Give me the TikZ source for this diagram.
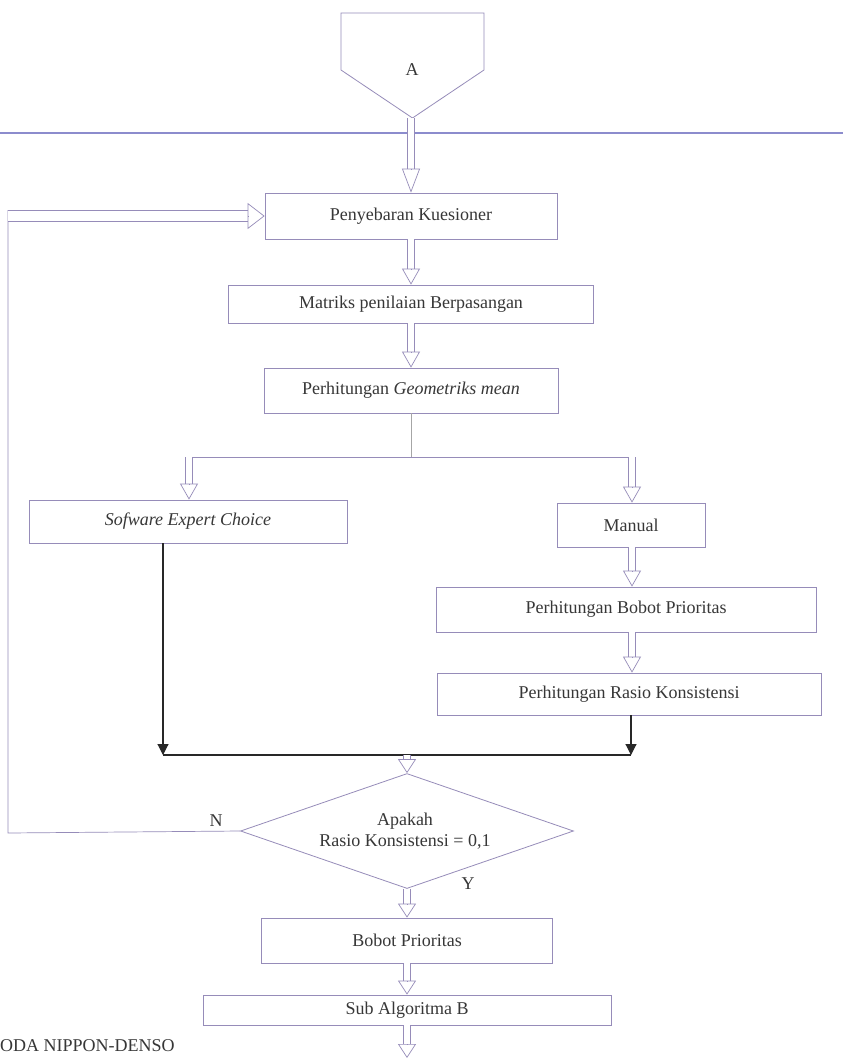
\documentclass[tikz,border=0pt]{standalone}
\usepackage{fontspec}
\setmainfont{Liberation Serif}
\usetikzlibrary{arrows.meta,calc,shapes.geometric}
\definecolor{linec}{RGB}{150,140,185}
\definecolor{topline}{RGB}{140,140,205}
\definecolor{txt}{RGB}{55,55,55}
\definecolor{blk}{RGB}{40,40,40}
\tikzset{
  fnt/.style={font=\fontsize{18}{21.6}\selectfont},
  box/.style={draw=linec, line width=0.8pt, fill=white, inner sep=0pt, text=txt, fnt},
  lbl/.style={text=txt, inner sep=0pt, fnt},
  shaft/.style={draw=linec, line width=0.7pt, double=white, double distance=6pt, line cap=butt},
  blkarrow/.style={draw=blk, line width=1.1pt, -{Triangle[length=11pt,width=11pt]}},
  thinline/.style={draw=linec, line width=0.7pt},
}
\newcommand\hollowto[3][16pt]{%
  \draw[shaft] (#2) -- ($(#3)!#1!(#2)$);
  \draw[draw=linec, line width=0.7pt, -{Triangle[open,length=#1,width=18pt]}] ($(#3)!#1!(#2)$) -- (#3);
}
\begin{document}
\begin{tikzpicture}[x=1pt,y=-1pt]
\useasboundingbox (0,0) rectangle (843,1058);
\fill[white] (0,0) rectangle (843,1058);

% off-page connector A
\draw[draw=linec, line width=0.8pt] (341,13) -- (484,13) -- (484,70) -- (412.5,118) -- (341,70) -- cycle;
\coordinate (Atip) at (411,118);
\node[lbl] (A) at (412,70) {A};

% top separator
\draw[draw=topline, line width=1.2pt] (0,133) -- (843,133);

% boxes
\node[box, minimum width=292pt, minimum height=46pt] (P) at (411,216) {Penyebaran Kuesioner};
\node[box, minimum width=365pt, minimum height=38pt] (M) at (411,304) {Matriks penilaian Berpasangan};
\node[box, minimum width=294pt, minimum height=45pt] (G) at (411,390.5) {Perhitungan \textit{Geometriks mean}};
\node[box, minimum width=318pt, minimum height=43pt] (SEC) at (188,521.5) {\textit{Sofware Expert Choice}};
\node[box, minimum width=148pt, minimum height=44pt] (MAN) at (631,525) {Manual};
\node[box, minimum width=380pt, minimum height=45pt] (BPR) at (626,609.5) {Perhitungan Bobot Prioritas};
\node[box, minimum width=384pt, minimum height=42pt] (RK) at (629,694) {Perhitungan Rasio Konsistensi};
\node[diamond, draw=linec, line width=0.8pt, minimum width=333pt, minimum height=115pt, inner sep=0pt, aspect=2.9] (D) at (407,831) {};
\node[lbl, align=center, font=\fontsize{18}{20.5}\selectfont] (Dt) at (405,831) {Apakah\\Rasio Konsistensi = 0,1};
\node[box, minimum width=291pt, minimum height=45pt] (BP) at (407,940.5) {Bobot Prioritas};
\node[box, minimum width=408pt, minimum height=30pt] (SUB) at (407,1010) {Sub Algoritma B};

% labels
\node[lbl] (N) at (216,821) {N};
\node[lbl] (Y) at (468,884) {Y};
\node[lbl, anchor=west] (ND) at (0,1046) {ODA NIPPON-DENSO};

% hollow arrows on the main axis
\hollowto[24pt]{Atip}{P.north}
\hollowto{P.south}{M.north}
\hollowto{M.south}{G.north}

% branch
\coordinate (b1) at (189,457);
\coordinate (b2) at (632,457);
\coordinate (bc) at (411,457);
\draw[thinline, line width=0.5pt, draw=gray!70] (G.south) -- (bc);
\draw[thinline] (b1) -- (b2);
\hollowto{b1}{SEC.north -| b1}
\hollowto{b2}{MAN.north -| b2}
\hollowto{MAN.south -| b2}{BPR.north -| b2}
\hollowto{BPR.south -| b2}{RK.north -| b2}

% merge (black)
\coordinate (m1) at (163,755);
\coordinate (m2) at (631,755);
\draw[blkarrow] (SEC.south -| m1) -- (m1);
\draw[blkarrow] (RK.south -| m2) -- (m2);
\draw[draw=blk, line width=1.3pt] (m1) -- (m2);
\coordinate (mc) at (407,755);
\hollowto[14pt]{mc}{D.north}

% yes branch
\hollowto[14pt]{D.south}{BP.north}
\hollowto[14pt]{BP.south}{SUB.north}
\coordinate (off) at (407,1058);
\hollowto[14pt]{SUB.south}{off}

% no branch (feedback)
\coordinate (fb) at (8,833);
\coordinate (fbx) at (7.65,0);
\draw[thinline] (D.west) -- (fb) -- (8,210);
\draw[shaft, double distance=10pt] (P.west -| fbx) -- ($(P.west)!17pt!(P.west -| fbx)$);
\draw[draw=linec, line width=0.7pt, -{Triangle[open,length=17pt,width=26pt]}] ($(P.west)!17pt!(P.west -| fbx)$) -- (P.west);
\end{tikzpicture}
\end{document}
